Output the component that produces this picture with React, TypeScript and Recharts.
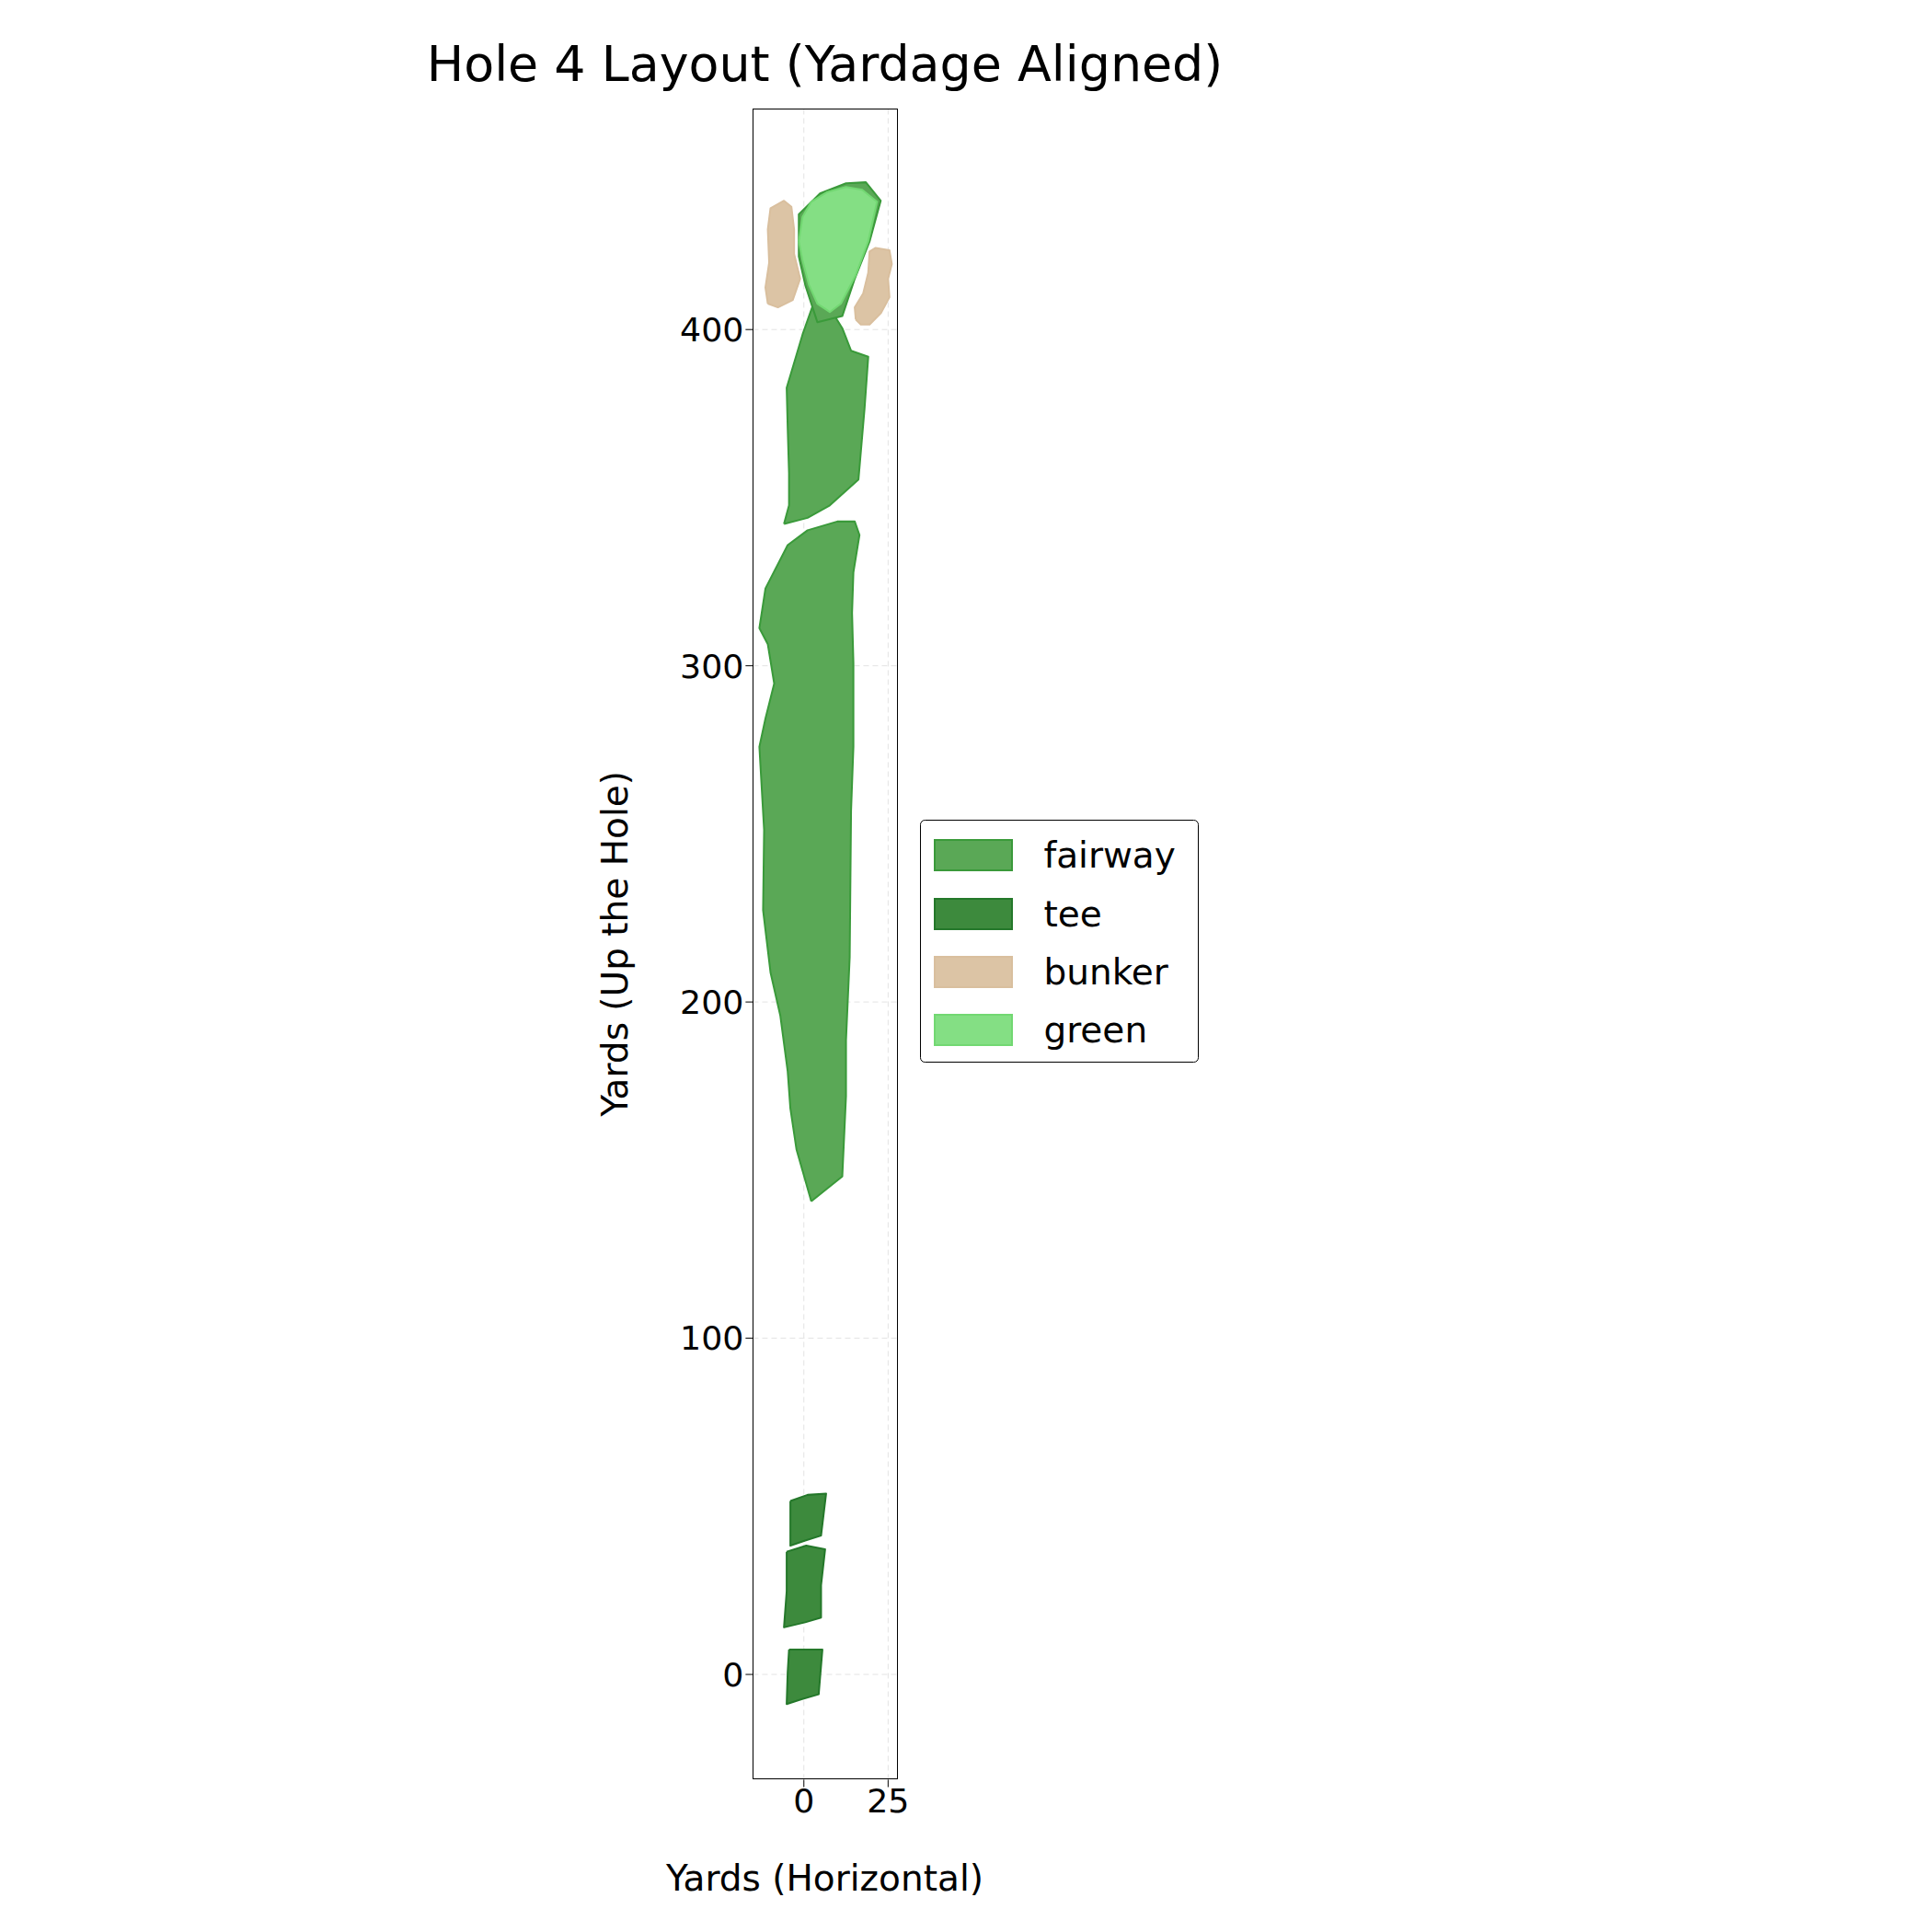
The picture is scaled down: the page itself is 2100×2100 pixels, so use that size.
import { ScatterChart, Scatter, XAxis, YAxis, CartesianGrid } from 'recharts';

const S = 2100 / 1560;

type P = [number, number];

const fairwayLower: P[] = [
  [2.2, 140.7], [-2.2, 156.2], [-4.0, 168.3], [-4.8, 179.4], [-7.0, 196.0], [-9.9, 208.8],
  [-12.1, 227.3], [-11.8, 251.2], [-13.2, 275.9], [-11.4, 284.3], [-8.8, 294.7], [-10.7, 306.4],
  [-13.2, 311.2], [-11.4, 323.0], [-4.8, 335.9], [1.1, 340.3], [9.9, 342.9], [15.1, 342.9],
  [16.5, 338.9], [14.7, 327.8], [14.3, 315.7], [14.7, 300.9], [14.7, 275.9], [14.0, 256.7],
  [13.6, 213.3], [12.5, 188.6], [12.5, 172.0], [11.4, 148.1],
];
const fairwayUpper: P[] = [
  [-5.9, 342.2], [-4.4, 347.7], [-4.4, 357.3], [-4.8, 370.9], [-5.1, 382.7], [-0.4, 398.5],
  [2.6, 407.0], [6.6, 408.1], [11.4, 400.4], [14.0, 393.7], [19.1, 391.9], [18.0, 376.4],
  [16.2, 355.4], [7.7, 347.7], [1.1, 344.0],
];
const fairwayCollar: P[] = [
  [-1.5, 421.7], [-1.5, 434.3], [4.8, 440.5], [12.5, 443.5], [18.4, 443.8], [22.8, 438.3],
  [19.5, 426.2], [15.1, 415.1], [11.4, 404.0], [4.0, 402.2], [0.4, 413.3],
];
const tee1: P[] = [[-4.0, 51.6], [1.1, 53.4], [6.6, 53.8], [5.1, 41.3], [0.4, 39.8], [-4.0, 38.3]];
const tee2: P[] = [[-5.1, 36.5], [0.7, 38.3], [6.3, 37.2], [5.1, 26.5], [5.1, 16.9], [0.4, 15.5], [-5.9, 14.0], [-5.1, 24.7]];
const tee3: P[] = [[-4.4, 7.4], [5.5, 7.4], [4.4, -5.9], [-0.7, -7.4], [-5.1, -8.8], [-4.8, 0.7]];
const bunkerLeft: P[] = [
  [-10.7, 407.7], [-11.4, 412.5], [-10.3, 419.9], [-10.7, 429.8], [-9.9, 436.1], [-5.9, 438.3],
  [-3.7, 436.5], [-2.9, 429.8], [-2.9, 422.5], [-1.1, 415.1], [-3.3, 408.8], [-7.7, 406.6],
];
const bunkerRight: P[] = [
  [15.4, 403.0], [15.1, 406.6], [17.6, 410.7], [19.1, 416.9], [19.5, 423.2], [21.3, 424.3],
  [25.4, 423.6], [26.1, 419.5], [25.0, 415.1], [25.4, 409.6], [22.8, 404.8], [19.5, 401.5], [16.9, 401.5],
];
const green: P[] = [
  [-1.5, 426.2], [-0.4, 433.5], [2.2, 438.0], [7.0, 440.9], [12.5, 442.4], [17.3, 441.6],
  [21.7, 438.0], [19.1, 426.2], [15.4, 416.2], [11.0, 407.7], [7.7, 405.2], [4.0, 407.7],
  [1.5, 413.3], [-0.4, 420.6],
];

const xTicks = [0, 25];
const yTicks = [0, 100, 200, 300, 400];

const styles = {
  fairway: { fill: '#5aa856', stroke: '#3a9a3a' },
  tee: { fill: '#3d8a3d', stroke: '#24782a' },
  bunker: { fill: '#dcc4a5', stroke: '#d9bf9e' },
  green: { fill: '#84df84', stroke: '#72d872' },
};

const shapes: { key: string; pts: P[]; kind: keyof typeof styles }[] = [
  { key: 'f1', pts: fairwayLower, kind: 'fairway' },
  { key: 'f2', pts: fairwayUpper, kind: 'fairway' },
  { key: 'f3', pts: fairwayCollar, kind: 'fairway' },
  { key: 't1', pts: tee1, kind: 'tee' },
  { key: 't2', pts: tee2, kind: 'tee' },
  { key: 't3', pts: tee3, kind: 'tee' },
  { key: 'b1', pts: bunkerLeft, kind: 'bunker' },
  { key: 'b2', pts: bunkerRight, kind: 'bunker' },
  { key: 'g1', pts: green, kind: 'green' },
];

const legendItems: (keyof typeof styles)[] = ['fairway', 'tee', 'bunker', 'green'];

const font = 'DejaVu Sans, sans-serif';
const plotL = 608 * S, plotR = 725 * S, plotT = 88 * S, plotB = 1437 * S;
const yAxisW = 120 * S, xAxisH = 60 * S;
const tickFont = 27 * S;

export default function App() {
  return (
    <div style={{ position: 'absolute', left: 0, top: 0, width: 2100, height: 2100, background: '#fff', fontFamily: font }}>
      <ScatterChart
        width={2100}
        height={2100}
        margin={{ left: plotL - yAxisW, right: 2100 - plotR, top: plotT, bottom: 2100 - plotB - xAxisH }}
      >
        <CartesianGrid stroke="#e3e3e3" strokeDasharray="6 4" horizontalValues={yTicks} verticalValues={xTicks} />
        <XAxis type="number" dataKey="x" domain={[-15.1, 27.9]} ticks={xTicks} allowDataOverflow height={xAxisH}
          tick={{ fontSize: tickFont, fill: '#000', fontFamily: font }} tickSize={6 * S} tickLine={{ stroke: '#000' }} axisLine={false} />
        <YAxis type="number" dataKey="y" domain={[-31.3, 465.6]} ticks={yTicks} allowDataOverflow width={yAxisW}
          tick={{ fontSize: tickFont, fill: '#000', fontFamily: font }} tickSize={6 * S} tickLine={{ stroke: '#000' }} axisLine={false} />
        {shapes.map((s) => (
          <Scatter
            key={s.key}
            data={[...s.pts, s.pts[0]].map(([x, y]) => ({ x, y }))}
            isAnimationActive={false}
            shape={() => <g />}
            line={{ fill: styles[s.kind].fill, stroke: styles[s.kind].stroke, strokeWidth: 1.5 * S, strokeLinejoin: 'round' } as any}
            lineType="joint"
          />
        ))}
      </ScatterChart>
      <div style={{ position: 'absolute', left: plotL, top: plotT, width: plotR - plotL, height: plotB - plotT, border: `${1.1 * S}px solid #000`, boxSizing: 'border-box', pointerEvents: 'none' }} />
      <div style={{ position: 'absolute', left: 666 * S - 600, width: 1200, top: 52 * S - 28 * S, textAlign: 'center', fontSize: 40 * S, lineHeight: `${56 * S}px` }}>Hole 4 Layout (Yardage Aligned)</div>
      <div style={{ position: 'absolute', left: 666 * S - 400, width: 800, top: 1517 * S - 20 * S, textAlign: 'center', fontSize: 29 * S, lineHeight: `${40 * S}px` }}>Yards (Horizontal)</div>
      <div style={{ position: 'absolute', left: 497 * S - 400, width: 800, top: 762 * S - 20 * S, textAlign: 'center', fontSize: 29 * S, lineHeight: `${40 * S}px`, transform: 'rotate(-90deg)' }}>Yards (Up the Hole)</div>
      <div style={{ position: 'absolute', left: 743 * S, top: 662 * S, width: 225 * S, height: 196 * S, border: `${1.3 * S}px solid #000`, borderRadius: 4 * S, boxSizing: 'border-box', background: '#fff', paddingTop: 4.5 * S }}>
        {legendItems.map((k) => (
          <div key={k} style={{ display: 'flex', alignItems: 'center', height: 47 * S }}>
            <div style={{ marginLeft: 10 * S, width: 64 * S, height: 26 * S, background: styles[k].fill, border: `${1.5 * S}px solid ${styles[k].stroke}`, boxSizing: 'border-box' }} />
            <span style={{ marginLeft: 25 * S, fontSize: 29 * S }}>{k}</span>
          </div>
        ))}
      </div>
    </div>
  );
}
